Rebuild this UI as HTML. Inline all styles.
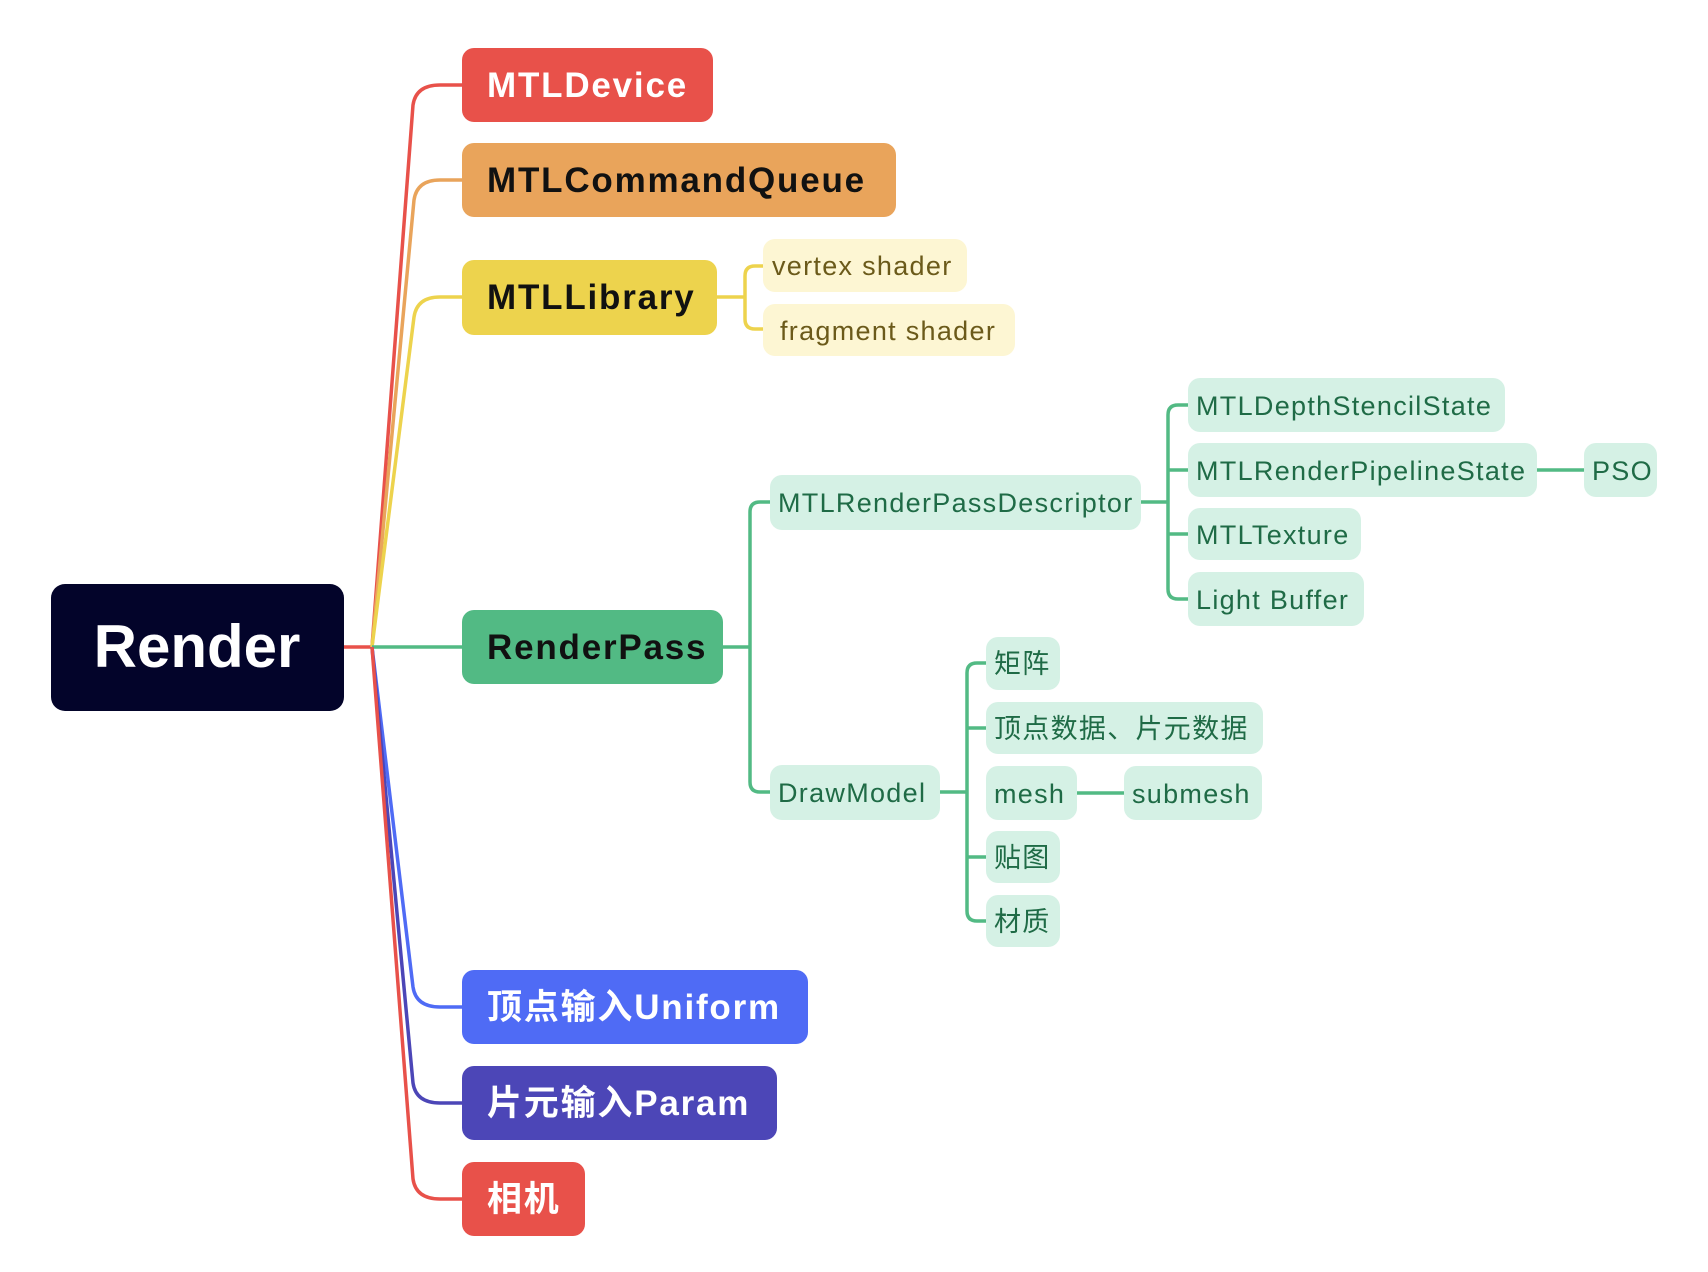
<!DOCTYPE html>
<html><head><meta charset="utf-8"><style>
html,body{margin:0;padding:0;background:#fff;}
svg{display:block;}
text{font-family:"Liberation Sans","Noto Sans CJK SC",sans-serif;}
</style></head><body>
<svg width="1708" height="1272" viewBox="0 0 1708 1272" xmlns="http://www.w3.org/2000/svg">
<g fill="none" stroke-width="3.5">
<path d="M344,647 H372" stroke="#E8514A"/>
<path d="M372,647 L413,105 Q416,85 440,85 H462" stroke="#E8514A"/>
<path d="M372,647 L414,200 Q417,180 440,180 H462" stroke="#E9A45B"/>
<path d="M372,647 L414,317 Q417,297 440,297 H462" stroke="#EDD34D"/>
<path d="M372,647 H462" stroke="#52BA84"/>
<path d="M372,647 L413,987 Q416,1007 440,1007 H462" stroke="#4F6BF5"/>
<path d="M372,647 L413,1083 Q416,1103 440,1103 H462" stroke="#4C46B7"/>
<path d="M372,647 L413,1179 Q416,1199 440,1199 H462" stroke="#E8514A"/>
<path d="M717,297 H745 M763,266 H755 Q745,266 745,276 V319 Q745,329 755,329 H763" stroke="#EDD34D"/>
<g stroke="#52BA84">
<path d="M723,647 H750 M770,502 H760 Q750,502 750,512 V782 Q750,792 760,792 H770"/>
<path d="M1141,502 H1168 M1188,405 H1178 Q1168,405 1168,415 V589 Q1168,599 1178,599 H1188 M1168,470 H1188 M1168,534 H1188"/>
<path d="M1537,470 H1584"/>
<path d="M940,792 H967 M986,663 H977 Q967,663 967,673 V911 Q967,921 977,921 H986 M967,728 H986 M967,857 H986"/>
<path d="M1077,793 H1124"/>
</g>
</g>
<rect x="51" y="584" width="293" height="127" rx="14" fill="#03042A"/>
<text x="197" y="667" font-size="60" font-weight="bold" fill="#fff" text-anchor="middle">Render</text>
<g font-size="35" font-weight="bold" letter-spacing="1.8">
<rect x="462" y="48" width="251" height="74" rx="12" fill="#E8514A"/><text x="487" y="97" fill="#fff">MTLDevice</text>
<rect x="462" y="143" width="434" height="74" rx="12" fill="#E9A45B"/><text x="487" y="192" fill="#111">MTLCommandQueue</text>
<rect x="462" y="260" width="255" height="75" rx="12" fill="#EDD34D"/><text x="487" y="309" fill="#111">MTLLibrary</text>
<rect x="462" y="610" width="261" height="74" rx="12" fill="#52BA84"/><text x="487" y="659" fill="#111">RenderPass</text>
<rect x="462" y="970" width="346" height="74" rx="12" fill="#4F6BF5"/><text x="487" y="1019" fill="#fff">顶点输入Uniform</text>
<rect x="462" y="1066" width="315" height="74" rx="12" fill="#4C46B7"/><text x="487" y="1115" fill="#fff">片元输入Param</text>
<rect x="462" y="1162" width="123" height="74" rx="12" fill="#E8514A"/><text x="487" y="1211" fill="#fff">相机</text>
</g>
<g font-size="27" letter-spacing="1.3">
<rect x="763" y="239" width="204" height="53" rx="12" fill="#FDF6D3"/><text x="772" y="275" fill="#6B5A1A">vertex shader</text>
<rect x="763" y="304" width="252" height="52" rx="12" fill="#FDF6D3"/><text x="780" y="340" fill="#6B5A1A">fragment shader</text>
<g fill="#D5F1E5">
<rect x="770" y="475" width="371" height="55" rx="12"/>
<rect x="1188" y="378" width="317" height="54" rx="12"/>
<rect x="1188" y="443" width="349" height="54" rx="12"/>
<rect x="1584" y="443" width="73" height="54" rx="12"/>
<rect x="1188" y="508" width="173" height="52" rx="12"/>
<rect x="1188" y="572" width="176" height="54" rx="12"/>
<rect x="770" y="765" width="170" height="55" rx="12"/>
<rect x="986" y="637" width="74" height="53" rx="12"/>
<rect x="986" y="702" width="277" height="52" rx="12"/>
<rect x="986" y="766" width="91" height="54" rx="12"/>
<rect x="1124" y="766" width="138" height="54" rx="12"/>
<rect x="986" y="831" width="74" height="52" rx="12"/>
<rect x="986" y="895" width="74" height="52" rx="12"/>
</g>
<g fill="#1F6B46">
<text x="778" y="512">MTLRenderPassDescriptor</text>
<text x="1196" y="415">MTLDepthStencilState</text>
<text x="1196" y="480">MTLRenderPipelineState</text>
<text x="1592" y="480">PSO</text>
<text x="1196" y="544">MTLTexture</text>
<text x="1196" y="609">Light Buffer</text>
<text x="778" y="802">DrawModel</text>
<text x="994" y="673">矩阵</text>
<text x="994" y="738">顶点数据、片元数据</text>
<text x="994" y="803">mesh</text>
<text x="1132" y="803">submesh</text>
<text x="994" y="867">贴图</text>
<text x="994" y="931">材质</text>
</g>
</g>
</svg>
</body></html>
